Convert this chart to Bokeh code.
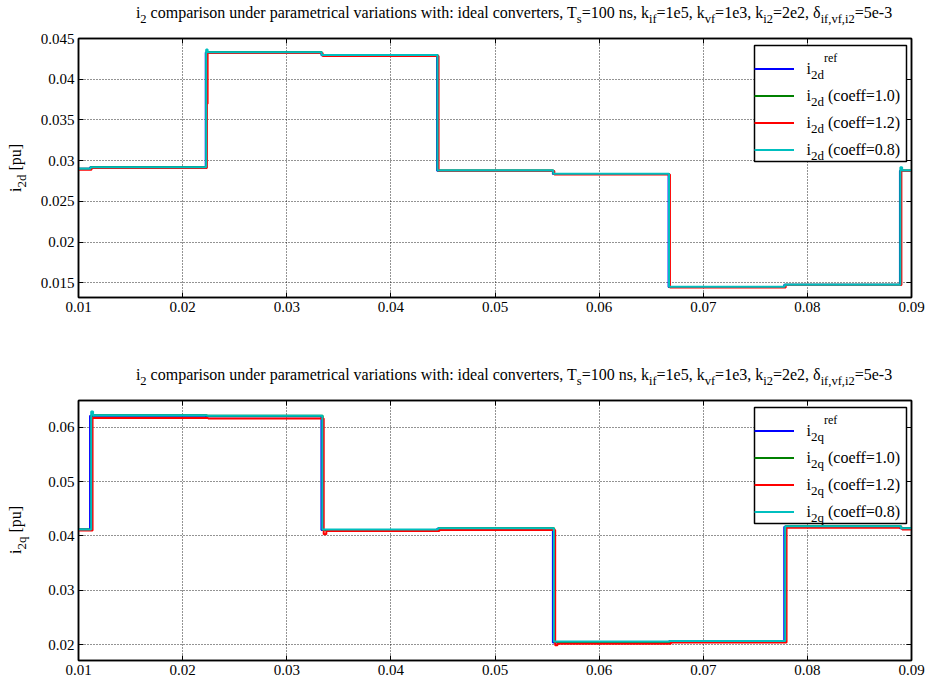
from bokeh.plotting import figure
from bokeh.models import (Range1d, FixedTicker, LinearAxis, Label, Legend, LegendItem,
                          CustomJSTickFormatter, BoxAnnotation, Div)
from bokeh.layouts import column, row
from bokeh.embed import file_html
from bokeh.resources import INLINE

FONT = "Liberation Serif"

# ---------------- data ----------------
x_ticks = [0.01, 0.02, 0.03, 0.04, 0.05, 0.06, 0.07, 0.08, 0.09]
x_tick_labels = ["0.01", "0.02", "0.03", "0.04", "0.05", "0.06", "0.07", "0.08", "0.09"]
d_ticks = [0.015, 0.02, 0.025, 0.03, 0.035, 0.04, 0.045]
d_tick_labels = ["0.015", "0.02", "0.025", "0.03", "0.035", "0.04", "0.045"]
q_ticks = [0.02, 0.03, 0.04, 0.05, 0.06]
q_tick_labels = ["0.02", "0.03", "0.04", "0.05", "0.06"]

# i2d (top)
t_d_ref = [0.01, 0.01111, 0.02222, 0.03333, 0.04444, 0.05556, 0.06667, 0.07778, 0.08889, 0.09]
i2d_ref = [0.0290, 0.0292, 0.04328, 0.04295, 0.02877, 0.02836, 0.01449, 0.01476, 0.02877, 0.02877]
t_d_c10 = [0.01, 0.01118, 0.02228, 0.03338, 0.04450, 0.05562, 0.06673, 0.07784, 0.08895, 0.09]
i2d_c10 = [0.0290, 0.0292, 0.04330, 0.04296, 0.02878, 0.02837, 0.01450, 0.01477, 0.02878, 0.02878]
t_d_c12 = [0.01, 0.01125, 0.02233, 0.02240, 0.03345, 0.04458, 0.05570, 0.06680, 0.07792, 0.08903, 0.09]
i2d_c12 = [0.0289, 0.0291, 0.03700, 0.04322, 0.04285, 0.02872, 0.02830, 0.01444, 0.01472, 0.02872, 0.02872]
t_d_c08 = [0.01, 0.01115, 0.02226, 0.02240, 0.03336, 0.04448, 0.05560, 0.06671, 0.07782, 0.08893, 0.08910, 0.09]
i2d_c08 = [0.0290, 0.0292, 0.04365, 0.04332, 0.04297, 0.02879, 0.02838, 0.01451, 0.01478, 0.02920, 0.02879, 0.02879]

# i2q (bottom)
t_q_ref = [0.01, 0.01111, 0.02222, 0.03333, 0.04444, 0.05556, 0.06667, 0.07778, 0.08889, 0.09]
i2q_ref = [0.0412, 0.0621, 0.0620, 0.0411, 0.0413, 0.0204, 0.0206, 0.0417, 0.0414, 0.0414]
t_q_c10 = [0.01, 0.01125, 0.02235, 0.03345, 0.04456, 0.05568, 0.06679, 0.07790, 0.08901, 0.09]
i2q_c10 = [0.0412, 0.0622, 0.0621, 0.0411, 0.0414, 0.0205, 0.0207, 0.0418, 0.0414, 0.0414]
t_q_c12 = [0.01, 0.01135, 0.02245, 0.03355, 0.03380, 0.04466, 0.05578, 0.05600, 0.06689, 0.07800, 0.08911, 0.09]
i2q_c12 = [0.0410, 0.0617, 0.0616, 0.0403, 0.0409, 0.0411, 0.0199, 0.0202, 0.0204, 0.0415, 0.0412, 0.0412]
t_q_c08 = [0.01, 0.01122, 0.01140, 0.02232, 0.03342, 0.04453, 0.05565, 0.06676, 0.07787, 0.08898, 0.09]
i2q_c08 = [0.0412, 0.0629, 0.0622, 0.0621, 0.0412, 0.0414, 0.0206, 0.0207, 0.0418, 0.0414, 0.0414]

coeff_labels = ["1.0", "1.2", "0.8"]
series_colors = ["#0000ff", "#008000", "#ff0000", "#00bfbf"]

# ---------------- text helpers (Times/Liberation Serif metrics) ----------------
TW = {' ': 250, '!': 333, '(': 333, ')': 333, ',': 250, '-': 333, '.': 250, ':': 278,
      '=': 564, '[': 333, ']': 333, 'T': 611, 'δ': 500,
      'a': 444, 'b': 500, 'c': 444, 'd': 500, 'e': 444, 'f': 333, 'g': 500, 'h': 500,
      'i': 278, 'j': 278, 'k': 500, 'l': 278, 'm': 778, 'n': 500, 'o': 500, 'p': 500,
      'q': 500, 'r': 333, 's': 389, 't': 278, 'u': 500, 'v': 500, 'w': 722, 'x': 500,
      'y': 500, 'z': 444}
for _d in "0123456789":
    TW[_d] = 500


def text_w(s, size):
    return sum(TW.get(ch, 500) for ch in s) * size / 1000.0


def rich(p, x, y, parts):
    adv = 0.0
    for txt, size, dy in parts:
        lead = len(txt) - len(txt.lstrip(' '))
        adv += text_w(' ' * lead, size)
        body = txt.strip(' ')
        if body:
            p.add_layout(Label(x=x + adv, y=y + dy, x_units="screen", y_units="screen", text=body,
                               text_font=FONT, text_font_size=f"{size}px",
                               text_baseline="alphabetic", text_align="left",
                               text_color="black", level="overlay"))
            adv += text_w(body, size)


SUB = '<sub style="font-size:12.5px;vertical-align:-5px;line-height:0;">{}</sub>'
title_html = ("i" + SUB.format("2") +
              " comparison under parametrical variations with: ideal converters, T" + SUB.format("s") +
              "=100 ns, k" + SUB.format("if") + "=1e5, k" + SUB.format("vf") + "=1e3, k" +
              SUB.format("i2") + "=2e2, δ" + SUB.format("if,vf,i2") + "=5e-3")

TOTAL_W = 927
YL_W = 30
FW = 833
BL = 48
BR = TOTAL_W - YL_W - BL - FW
TICK_FS = "15px"
TITLE_CX = 514

FMT_CODE = ("let k=0; let b=1e9; for (let i=0;i<tv.length;i++){const d=Math.abs(tv[i]-tick);"
            " if(d<b){b=d;k=i;}} return tl[k];")


def title_div(h, pad_top):
    pad_left = int(round(2 * (TITLE_CX - TOTAL_W / 2.0)))
    html = (f'<div style="width:{TOTAL_W}px;height:{h}px;box-sizing:border-box;'
            f'padding-left:{pad_left}px;padding-top:{pad_top}px;text-align:center;white-space:nowrap;'
            f'font-family:\'Liberation Serif\';font-size:16px;line-height:16px;color:#000;">'
            f'{title_html}</div>')
    return Div(text=html, width=TOTAL_W, height=h, margin=(0, 0, 0, 0))


def ylabel_div(h, frame_cy, comp):
    w = text_w("i", 16) + text_w("2" + comp, 13) + text_w(" [pu]", 16)
    top = frame_cy + w / 2.0
    html = (f'<div style="position:relative;width:{YL_W}px;height:{h}px;">'
            f'<div style="position:absolute;left:8px;top:{top:.1f}px;transform:rotate(-90deg);'
            f'transform-origin:0 0;white-space:nowrap;font-family:\'Liberation Serif\';'
            f'font-size:16px;line-height:16px;color:#000;">i'
            f'<sub style="font-size:13px;vertical-align:-5px;line-height:0;">2{comp}</sub> [pu]</div></div>')
    return Div(text=html, width=YL_W, height=h, margin=(0, 0, 0, 0))


def make_fig(fh, yr, yticks, ylabels, top, bottom, comp):
    p = figure(frame_width=FW, frame_height=fh, x_range=Range1d(0.01, 0.09),
               y_range=Range1d(*yr), output_backend="svg", toolbar_location=None,
               min_border_left=BL, min_border_right=BR, min_border_top=top,
               min_border_bottom=bottom, outline_line_color="black", outline_line_width=1.5,
               background_fill_color="white", border_fill_color="white", margin=(0, 0, 0, 0))
    p.xaxis.ticker = FixedTicker(ticks=x_ticks)
    p.xaxis.formatter = CustomJSTickFormatter(args=dict(tv=x_ticks, tl=x_tick_labels), code=FMT_CODE)
    p.yaxis.ticker = FixedTicker(ticks=yticks)
    p.yaxis.formatter = CustomJSTickFormatter(args=dict(tv=yticks, tl=ylabels), code=FMT_CODE)
    for ax in (p.xaxis[0], p.yaxis[0]):
        ax.axis_line_color = "black"
        ax.axis_line_width = 1.5
        ax.major_tick_in = 5
        ax.major_tick_out = 0
        ax.major_tick_line_color = "black"
        ax.minor_tick_line_color = None
        ax.major_label_text_font = FONT
        ax.major_label_text_font_size = TICK_FS
        ax.major_label_text_color = "black"
        ax.major_label_standoff = 4
    for loc, tk in (("right", yticks), ("above", x_ticks)):
        ax = LinearAxis(ticker=FixedTicker(ticks=tk), formatter=CustomJSTickFormatter(code="return ''"),
                        major_tick_in=5, major_tick_out=0, minor_tick_line_color=None,
                        axis_line_color="black", axis_line_width=1.5, major_label_standoff=0)
        p.add_layout(ax, loc)
    p.grid.grid_line_color = "#000000"
    p.grid.grid_line_dash = "1 2"
    p.grid.grid_line_alpha = 0.85

    if comp == "d":
        data = [(t_d_ref, i2d_ref), (t_d_c10, i2d_c10), (t_d_c12, i2d_c12), (t_d_c08, i2d_c08)]
    else:
        data = [(t_q_ref, i2q_ref), (t_q_c10, i2q_c10), (t_q_c12, i2q_c12), (t_q_c08, i2q_c08)]
    rs = []
    for (tx, ty), c in zip(data, series_colors):
        rs.append(p.step(tx, ty, mode="after", line_color=c, line_width=2))

    # legend: white box behind, transparent Bokeh legend for the line samples, text labels on top
    pad, gw, gh, sp, lst, lw = 6, 40, 23, 4, 6, 94
    leg_w = 2 * pad + gw + lst + lw
    leg_h = 2 * pad + 4 * gh + 3 * sp
    lx = FW - 5 - leg_w
    ltop = fh - 7
    xr0, xr1 = 0.01, 0.09
    yr0, yr1 = yr
    px2x = lambda v: xr0 + (xr1 - xr0) * v / FW
    px2y = lambda v: yr0 + (yr1 - yr0) * v / fh
    p.add_layout(BoxAnnotation(left=px2x(lx), right=px2x(lx + leg_w), bottom=px2y(ltop - leg_h),
                               top=px2y(ltop), fill_color="white", fill_alpha=1.0,
                               line_color="black", line_alpha=1.0, line_width=1.5, level="glyph"))
    leg = Legend(items=[LegendItem(label=" ", renderers=[r]) for r in rs],
                 location=(lx, ltop - leg_h), orientation="vertical", glyph_width=gw,
                 glyph_height=gh, label_width=lw, label_height=gh, label_standoff=lst,
                 spacing=sp, padding=pad, margin=0, border_line_color=None,
                 background_fill_alpha=0.0, label_text_font_size="8px")
    p.add_layout(leg)
    LM, LS, LSUP = 16, 13, 12
    sub = "2" + comp
    entries = [[("i", LM, 0), (sub, LS, -6), ("ref", LSUP, 10)]]
    for cf in coeff_labels:
        entries.append([("i", LM, 0), (sub, LS, -6), (" (coeff=" + cf + ")", LM, 0)])
    tx0 = lx + pad + gw + lst
    for i, parts in enumerate(entries):
        yc = ltop - (pad + (gh + sp) * i + gh / 2.0)
        rich(p, tx0, yc - 5, parts)
    return p


FH1, FH2 = 259, 260
TOP1, BOT1 = 12, 65
TOP2, BOT2 = 12, 23
p1 = make_fig(FH1, (0.0132, 0.045), d_ticks, d_tick_labels, TOP1, BOT1, "d")
p2 = make_fig(FH2, (0.0171, 0.0649), q_ticks, q_tick_labels, TOP2, BOT2, "q")
H1 = TOP1 + FH1 + BOT1
H2 = TOP2 + FH2 + BOT2

layout = column(
    title_div(26, 5),
    row(ylabel_div(H1, TOP1 + FH1 / 2.0, "d"), p1),
    title_div(26, 5),
    row(ylabel_div(H2, TOP2 + FH2 / 2.0, "q"), p2),
)
open("out.html", "w", encoding="utf-8").write(file_html(layout, INLINE))
